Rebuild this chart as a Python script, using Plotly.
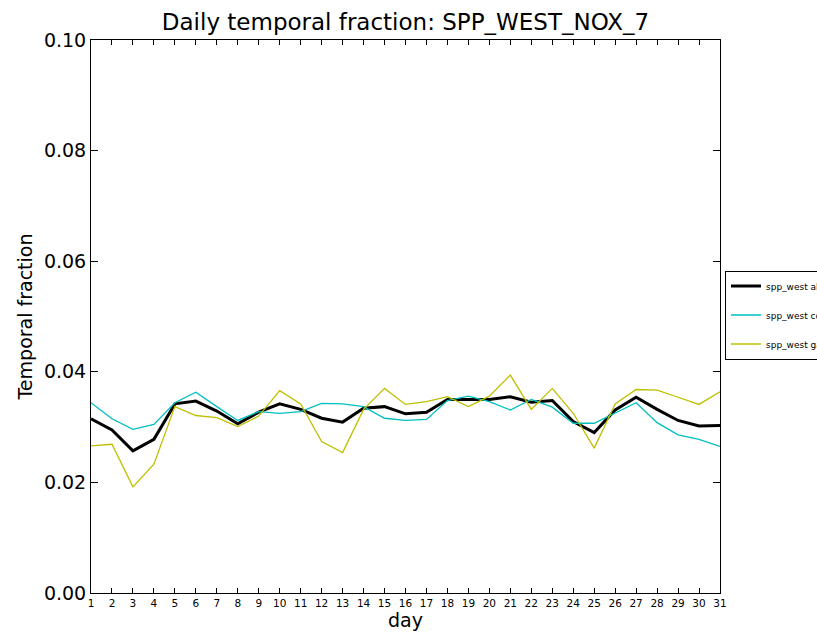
import plotly.graph_objects as go

days = list(range(1, 32))
all_vals = [0.0315, 0.0295, 0.0257, 0.0278, 0.0342, 0.0347, 0.0329, 0.0306, 0.0327, 0.0342,
            0.0332, 0.0316, 0.0309, 0.0334, 0.0337, 0.0324, 0.0327, 0.0350, 0.0350, 0.0350,
            0.0355, 0.0345, 0.0348, 0.0310, 0.0290, 0.0331, 0.0354, 0.0332, 0.0312, 0.0302, 0.0303]
coal_vals = [0.0344, 0.0315, 0.0296, 0.0305, 0.0344, 0.0363, 0.0337, 0.0312, 0.0328, 0.0325,
             0.0328, 0.0343, 0.0342, 0.0337, 0.0316, 0.0312, 0.0314, 0.0348, 0.0356, 0.0346,
             0.0331, 0.0350, 0.0336, 0.0307, 0.0307, 0.0325, 0.0344, 0.0308, 0.0286, 0.0278, 0.0265]
gas_vals = [0.0266, 0.0269, 0.0192, 0.0233, 0.0337, 0.0321, 0.0317, 0.0301, 0.0320, 0.0366,
            0.0342, 0.0274, 0.0254, 0.0332, 0.0370, 0.0341, 0.0346, 0.0355, 0.0337, 0.0356,
            0.0394, 0.0332, 0.0370, 0.0325, 0.0262, 0.0342, 0.0368, 0.0367, 0.0354, 0.0341, 0.0364]
series_names = ["spp_west all", "spp_west coal", "spp_west gas"]
y_ticks = [0.00, 0.02, 0.04, 0.06, 0.08, 0.10]

FONT = "DejaVu Sans"
fig = go.Figure()
fig.add_trace(go.Scatter(x=days, y=all_vals, mode="lines", name=series_names[0],
                         line=dict(color="black", width=3), legendgroup="a"))
fig.add_trace(go.Scatter(x=days, y=coal_vals, mode="lines", name=series_names[1],
                         line=dict(color="#00BFBF", width=1.3), legendgroup="b"))
fig.add_trace(go.Scatter(x=days, y=gas_vals, mode="lines", name=series_names[2],
                         line=dict(color="#BFBF00", width=1.3), legendgroup="c"))

fig.update_layout(
    width=817, height=634,
    margin=dict(l=91, r=97, t=40, b=41, autoexpand=False),
    paper_bgcolor="white", plot_bgcolor="white",
    font=dict(family=FONT, color="black"),
    title=dict(text="Daily temporal fraction: SPP_WEST_NOX_7", x=(91 + 720) / 2 / 817,
               xanchor="center", y=1 - 22 / 634, yanchor="middle", yref="container",
               font=dict(size=23, family=FONT, color="black")),
    showlegend=True,
    legend=dict(x=(725 - 91) / 629, xanchor="left", y=(593 - 315) / 553, yanchor="middle",
                bordercolor="black", borderwidth=1, bgcolor="white", itemwidth=30,
                font=dict(size=9, family=FONT), tracegroupgap=10),
)
fig.update_xaxes(range=[1, 31], tickmode="array", tickvals=days, ticktext=[str(d) for d in days],
                 ticks="inside", ticklen=5, tickcolor="black", mirror="allticks",
                 showline=True, linecolor="black", linewidth=1, showgrid=False, zeroline=False,
                 tickfont=dict(size=10.5, family=FONT),
                 title=dict(text="day", font=dict(size=19, family=FONT), standoff=6))
fig.update_yaxes(range=[0, 0.1], tickmode="array", tickvals=y_ticks,
                 ticktext=["%.2f" % v for v in y_ticks],
                 ticks="inside", ticklen=7, tickcolor="black", mirror="allticks",
                 showline=True, linecolor="black", linewidth=1, showgrid=False, zeroline=False,
                 tickfont=dict(size=19, family=FONT),
                 title=dict(text="Temporal fraction", font=dict(size=19, family=FONT), standoff=6))

fig.write_html("out.html")
